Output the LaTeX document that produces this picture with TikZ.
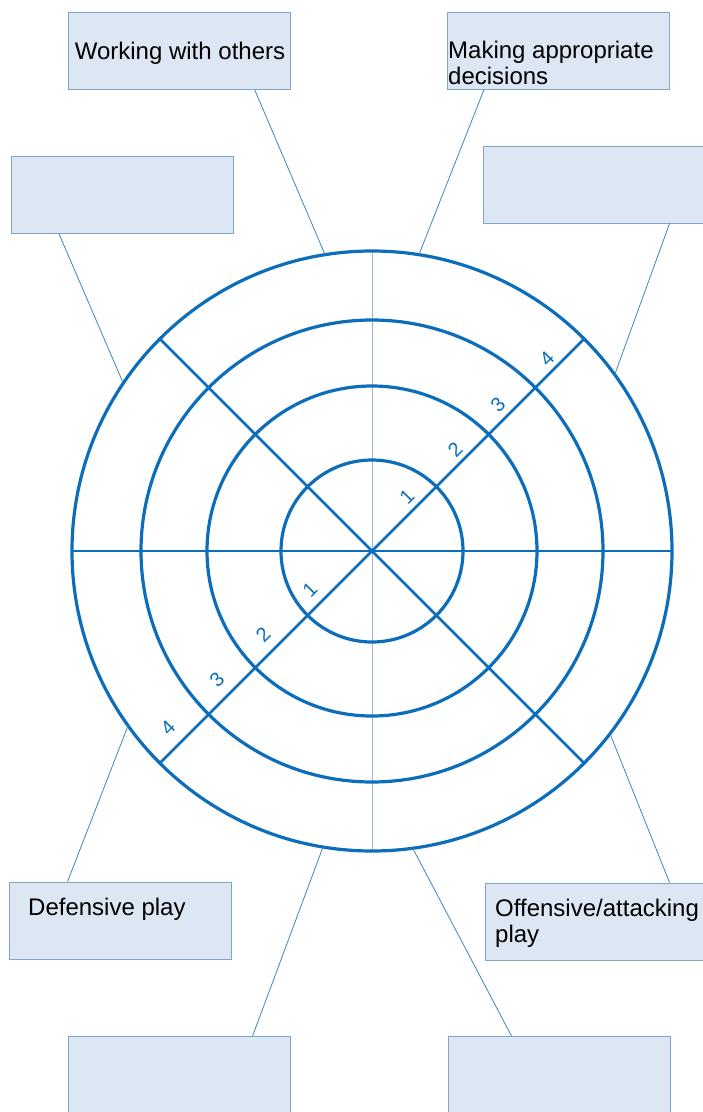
\documentclass[tikz,border=0pt]{standalone}
\usepackage{fontspec}
\setmainfont{Liberation Sans}
\usetikzlibrary{calc}
\definecolor{Ring}{HTML}{0C6DBB}
\definecolor{Pale}{HTML}{DDE6F3}
\definecolor{Edge}{HTML}{7FA6C8}
\definecolor{Lead}{HTML}{3D87B5}
\definecolor{Axis}{HTML}{96B8D8}

\begin{document}
\begin{tikzpicture}[x=1pt,y=-1pt,
 box/.style={draw=Edge,line width=0.9pt,fill=Pale,minimum width=222pt,minimum height=77pt,inner sep=0pt},
 lead/.style={draw=Lead,line width=0.8pt},
 ring/.style={draw=Ring,line width=3.2pt},
 lbl/.style={font=\fontsize{24}{26}\selectfont,inner sep=0pt,align=left},
 num/.style={text=Ring,font=\fontsize{20}{20}\selectfont,rotate=45,inner sep=0pt}]
\useasboundingbox (0,0) rectangle (703,1112);
\coordinate (c) at (372,551);

% the wheel
\draw[Axis,line width=1pt] (c) ++(90:300pt) -- ++(-90:600pt);
\draw[Ring,line width=2.7pt] (c) ++(180:300pt) -- ++(0:600pt);
\foreach \a in {45,135}
 \draw[Ring,line width=2.7pt] (c) ++(\a:300pt) -- ++(\a+180:600pt);
\foreach \r in {91,165,231,300}
 \draw[ring] (c) circle[radius=\r pt];

% scale along the diagonals
\foreach \n/\x/\y in {1/407/497,2/455/450,3/498/405,4/547/359,
 1/310/590,2/263/635,3/217/680,4/168/728}
 \node[num] (n\n-\x) at (\x,\y) {\n};

% boxes
\node[box] (work) at (179,50.5) {};
\node[box] (decide) at (558.5,50.5) {};
\node[box] (lbox) at (122.5,195) {};
\node[box] (rbox) at (594,184.5) {};
\node[box] (defend) at (120,920.5) {};
\node[box] (attack) at (596,921.5) {};
\node[box] (blbox) at (179,1075) {};
\node[box] (brbox) at (559,1075) {};

\node[lbl,anchor=base] (worktxt) at (180,59) {Working with others};
\node[lbl,anchor=north west] (decidetxt) at (448,41) {Making appropriate\\decisions};
\node[lbl,anchor=base west] (defendtxt) at (28,915) {Defensive play};
\node[lbl,anchor=north west] (attacktxt) at (495,899) {Offensive/attacking\\play};

% leader lines
\coordinate (e1) at ($(c)+(99:300pt)$);
\coordinate (e2) at ($(c)+(81:300pt)$);
\coordinate (e3) at ($(c)+(146:300pt)$);
\coordinate (e4) at ($(c)+(36:300pt)$);
\coordinate (e5) at ($(c)+(215.6:300pt)$);
\coordinate (e6) at ($(c)+(322.5:300pt)$);
\coordinate (e7) at ($(c)+(260.6:300pt)$);
\coordinate (e8) at ($(c)+(277.8:300pt)$);
\draw[lead] ($(work.south west)+(187,0)$) -- (e1);
\draw[lead] ($(decide.south west)+(37,0)$) -- (e2);
\draw[lead] ($(lbox.south west)+(48,0)$) -- (e3);
\draw[lead] ($(rbox.south west)+(187,0)$) -- (e4);
\draw[lead] ($(defend.north west)+(59,0)$) -- (e5);
\draw[lead] ($(attack.north west)+(185,0)$) -- (e6);
\draw[lead] ($(blbox.north west)+(185,0)$) -- (e7);
\draw[lead] ($(brbox.north west)+(64,0)$) -- (e8);
\end{tikzpicture}
\end{document}
